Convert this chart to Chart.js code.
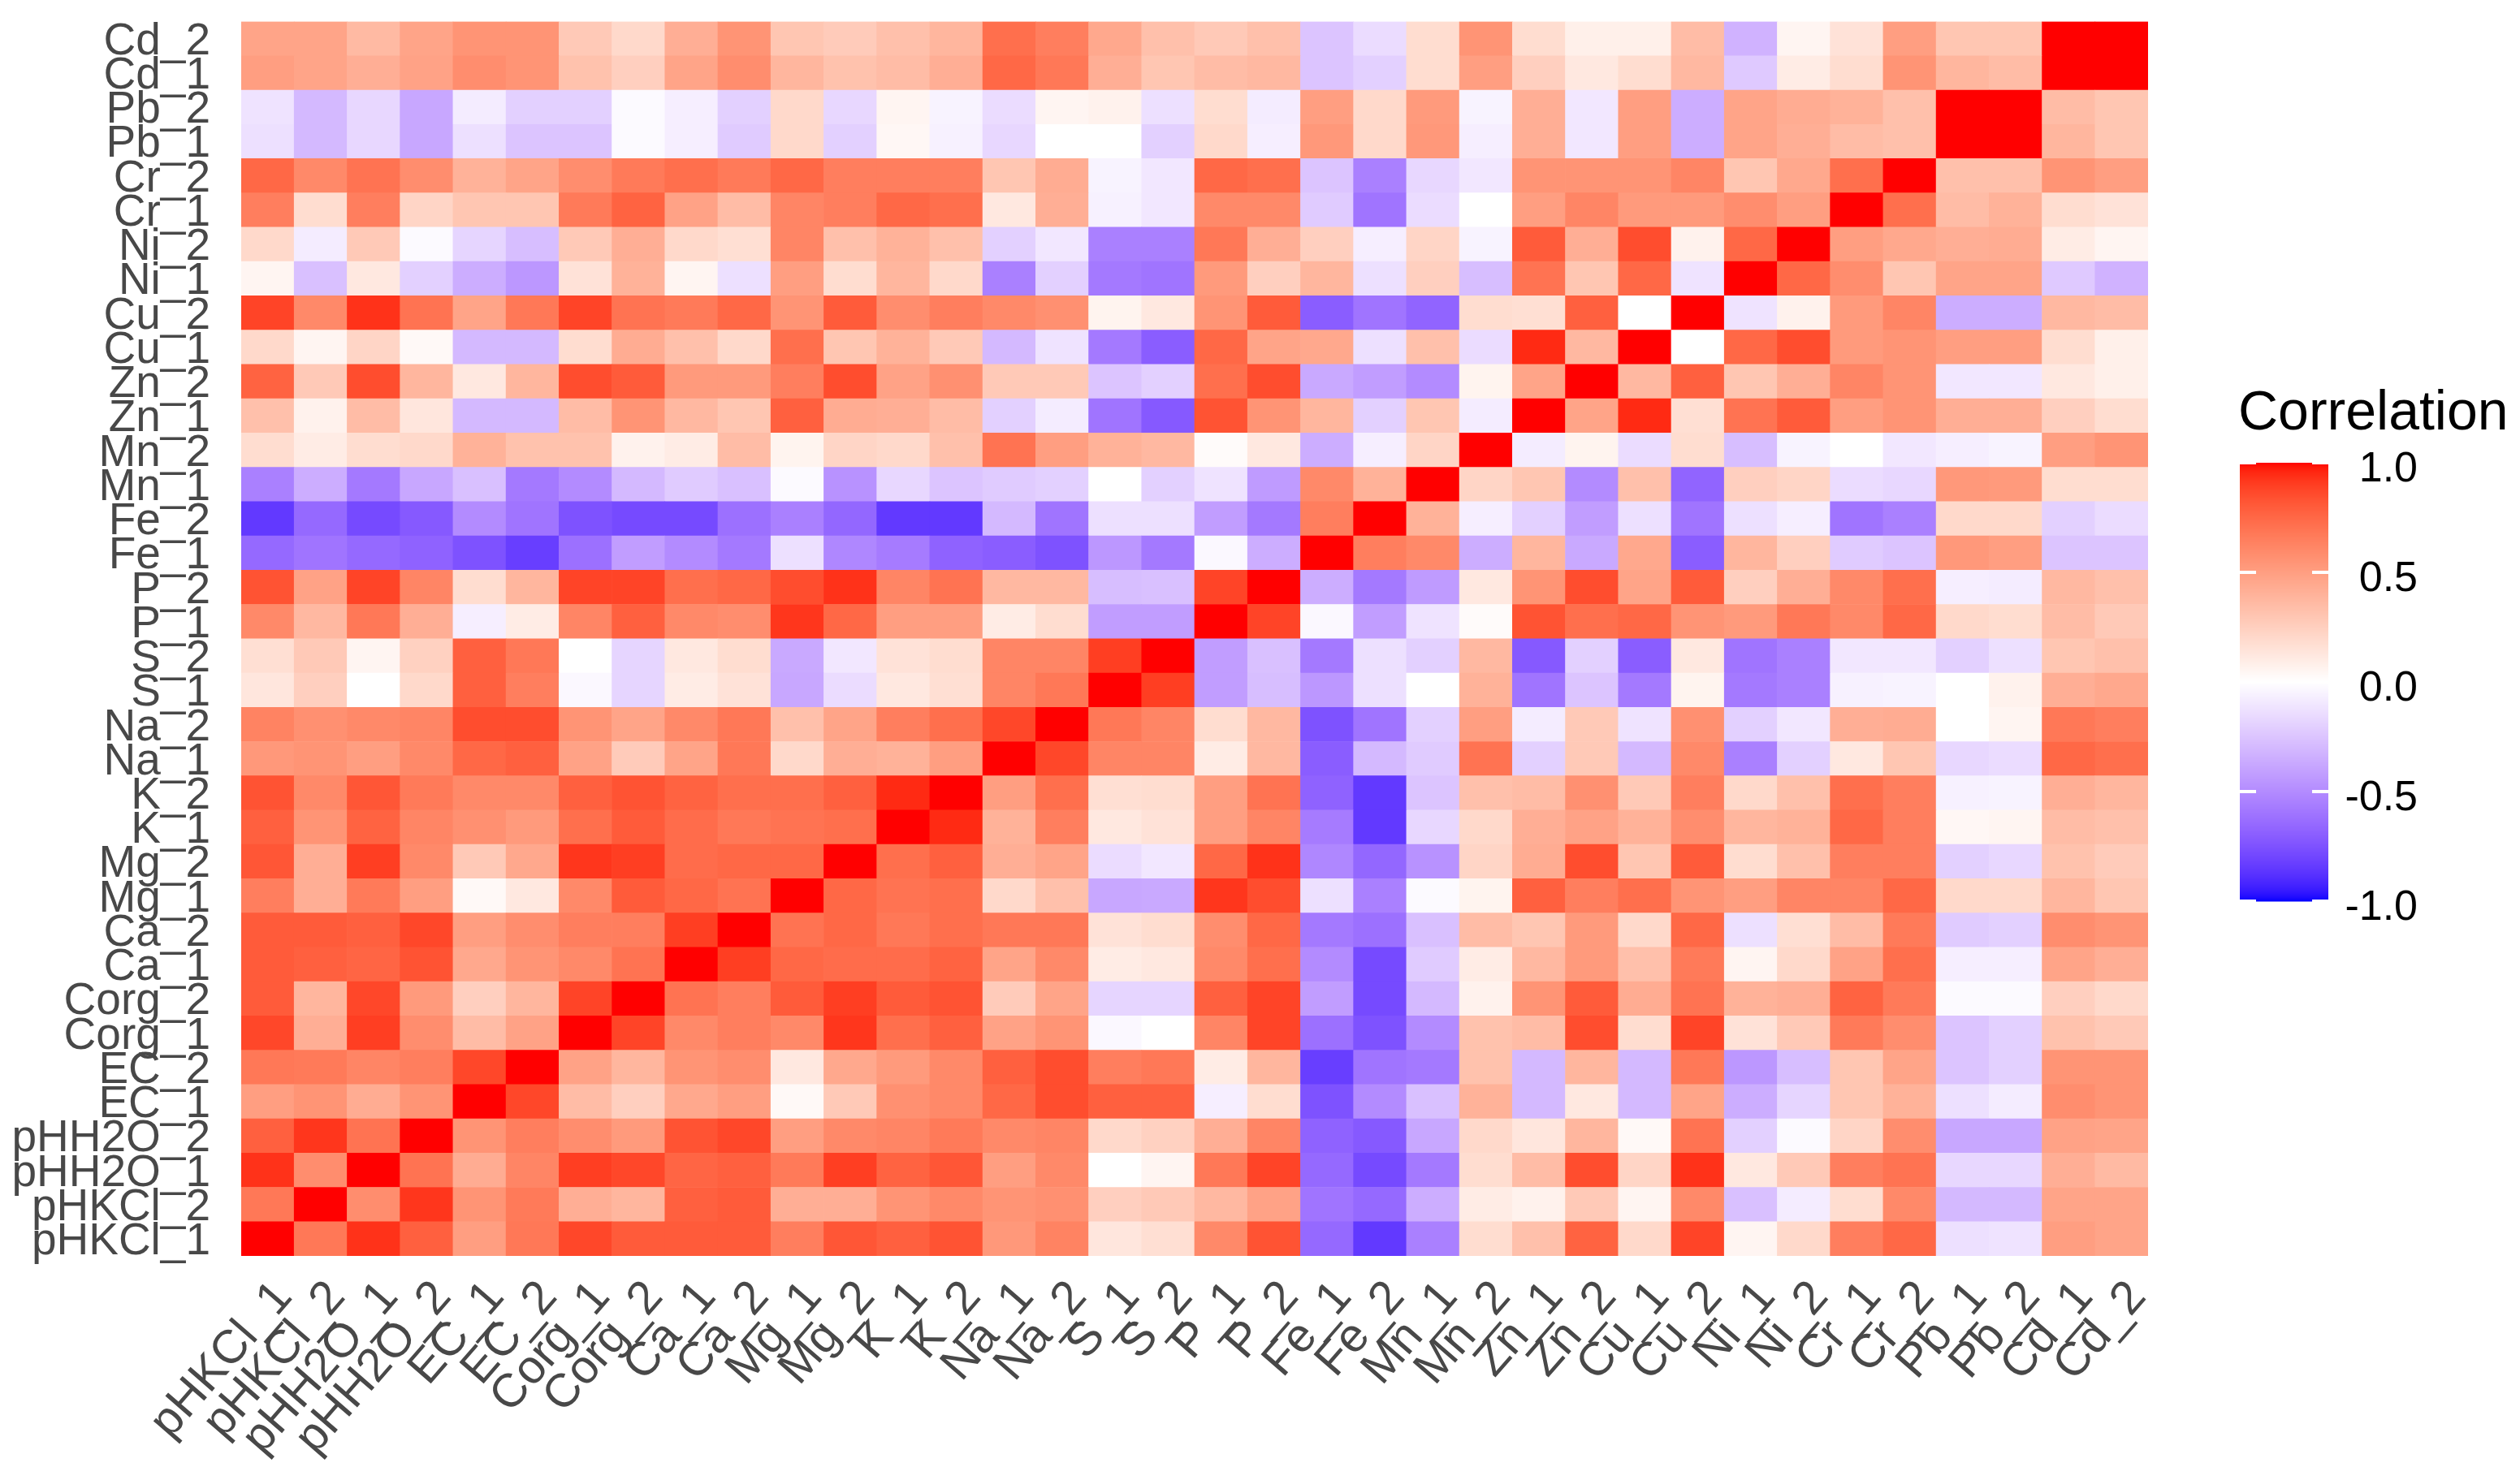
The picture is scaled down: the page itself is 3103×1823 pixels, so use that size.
<!DOCTYPE html>
<html><head><meta charset="utf-8">
<style>html,body{margin:0;padding:0;background:#fff;overflow:hidden}canvas{display:block}</style>
<script src="https://cdn.jsdelivr.net/npm/chart.js@4"></script>
</head><body>
<canvas id="c" width="3103" height="1823" style="width:3103px;height:1823px"></canvas>
<script>
const variables=["pHKCl_1","pHKCl_2","pHH2O_1","pHH2O_2","EC_1","EC_2","Corg_1","Corg_2","Ca_1","Ca_2","Mg_1","Mg_2","K_1","K_2","Na_1","Na_2","S_1","S_2","P_1","P_2","Fe_1","Fe_2","Mn_1","Mn_2","Zn_1","Zn_2","Cu_1","Cu_2","Ni_1","Ni_2","Cr_1","Cr_2","Pb_1","Pb_2","Cd_1","Cd_2"];
const legendTicks=[1,0.5,0,-0.5,-1];
// lower triangle of the correlation matrix, one list per variable
const r_pHKCl_1=[1];
const r_pHKCl_2=[.68,1];
const r_pHH2O_1=[.93,.58,1];
const r_pHH2O_2=[.78,.92,.7,1];
const r_EC_1=[.5,.55,.43,.55,1];
const r_EC_2=[.68,.67,.62,.65,.87,1];
const r_Corg_1=[.87,.42,.9,.58,.35,.48,1];
const r_Corg_2=[.8,.38,.87,.52,.25,.38,.88,1];
const r_Ca_1=[.8,.78,.76,.83,.45,.55,.6,.7,1];
const r_Ca_2=[.8,.8,.78,.87,.5,.58,.65,.65,.9,1];
const r_Mg_1=[.65,.42,.67,.5,.03,.12,.6,.8,.75,.7,1];
const r_Mg_2=[.82,.42,.9,.6,.28,.45,.92,.9,.73,.75,.75,1];
const r_K_1=[.78,.55,.77,.62,.57,.52,.72,.8,.73,.68,.7,.72,1];
const r_K_2=[.83,.6,.82,.67,.6,.6,.78,.83,.77,.72,.72,.78,.95,1];
const r_Na_1=[.53,.55,.5,.6,.75,.78,.48,.27,.47,.68,.2,.42,.4,.5,1];
const r_Na_2=[.63,.57,.6,.62,.85,.85,.55,.47,.6,.68,.33,.47,.65,.72,.87,1];
const r_S_1=[.13,.25,0,.2,.78,.65,-.03,-.18,.1,.15,-.38,-.15,.12,.17,.62,.68,1];
const r_S_2=[.17,.28,.05,.24,.78,.68,0,-.18,.12,.18,-.37,-.1,.15,.18,.62,.62,.9,1];
const r_P_1=[.6,.37,.68,.42,-.07,.1,.62,.78,.6,.58,.92,.75,.5,.5,.1,.18,-.42,-.42,1];
const r_P_2=[.83,.48,.88,.62,.18,.38,.88,.88,.72,.75,.85,.93,.62,.7,.37,.37,-.28,-.27,.88,1];
const r_Fe_1=[-.65,-.6,-.65,-.68,-.75,-.83,-.62,-.42,-.5,-.58,-.13,-.52,-.57,-.68,-.7,-.75,-.45,-.58,-.03,-.35,1];
const r_Fe_2=[-.85,-.65,-.78,-.72,-.5,-.6,-.75,-.78,-.78,-.62,-.55,-.66,-.85,-.85,-.3,-.6,-.13,-.13,-.42,-.58,.65,1];
const r_Mn_1=[-.55,-.35,-.58,-.38,-.27,-.58,-.5,-.3,-.22,-.27,-.02,-.47,-.17,-.25,-.22,-.2,0,-.2,-.12,-.43,.6,.4,1];
const r_Mn_2=[.18,.1,.18,.2,.4,.32,.32,.07,.1,.35,.06,.22,.2,.33,.7,.5,.4,.37,.02,.12,-.35,-.07,.22,1];
const r_Zn_1=[.33,.07,.35,.13,-.3,-.3,.35,.55,.37,.3,.78,.43,.42,.35,-.2,-.08,-.6,-.72,.83,.55,.38,-.2,.3,-.08,1];
const r_Zn_2=[.77,.28,.85,.38,.12,.38,.85,.8,.52,.52,.65,.85,.48,.57,.28,.28,-.25,-.2,.72,.85,-.37,-.42,-.5,.06,.47,1];
const r_Cu_1=[.2,.05,.22,.03,-.3,-.3,.18,.43,.33,.2,.72,.3,.4,.28,-.3,-.12,-.58,-.7,.75,.47,.45,-.13,.33,-.15,.95,.37,1];
const r_Cu_2=[.88,.6,.93,.7,.47,.68,.88,.7,.67,.75,.55,.8,.58,.65,.6,.57,.06,.12,.55,.8,-.7,-.6,-.67,.18,.17,.78,0,1];
const r_Ni_1=[.05,-.27,.12,-.2,-.35,-.45,.15,.4,.05,-.13,.5,.18,.38,.2,-.55,-.2,-.58,-.6,.52,.25,.38,-.13,.25,-.28,.7,.3,.75,-.12,1];
const r_Ni_2=[.2,-.08,.28,-.02,-.18,-.28,.28,.42,.2,.17,.62,.33,.4,.33,-.2,-.1,-.55,-.55,.68,.42,.25,-.07,.22,-.05,.8,.42,.85,.07,.75,1];
const r_Cr_1=[.65,.18,.65,.22,.3,.3,.67,.77,.48,.35,.62,.65,.75,.72,.12,.42,-.06,-.1,.6,.6,-.22,-.6,-.15,0,.5,.62,.52,.52,.58,.5,1];
const r_Cr_2=[.75,.6,.7,.58,.4,.47,.58,.67,.72,.67,.75,.65,.65,.65,.3,.43,-.05,-.1,.75,.72,-.25,-.55,-.17,-.1,.55,.55,.55,.62,.3,.45,.72,1];
const r_Pb_1=[-.13,-.3,-.17,-.38,-.13,-.25,-.25,-.02,-.07,-.22,.2,-.2,.04,-.06,-.17,0,0,-.2,.2,-.07,.53,.2,.53,-.07,.42,-.1,.5,-.35,.47,.42,.35,.33,1];
const r_Pb_2=[-.12,-.3,-.17,-.38,-.08,-.2,-.2,-.02,-.07,-.2,.2,-.17,.05,-.05,-.15,.05,.07,-.13,.18,-.08,.5,.2,.52,-.05,.42,-.1,.5,-.35,.47,.43,.4,.33,1,1];
const r_Cd_1=[.5,.47,.42,.48,.58,.55,.32,.25,.47,.58,.38,.32,.35,.42,.75,.68,.42,.3,.35,.37,-.25,-.2,.18,.5,.25,.12,.18,.37,-.23,.1,.18,.55,.38,.35,1];
const r_Cd_2=[.47,.47,.36,.47,.55,.55,.28,.2,.42,.55,.3,.27,.33,.38,.72,.65,.45,.33,.28,.33,-.25,-.15,.18,.55,.18,.08,.08,.35,-.33,.05,.15,.5,.3,.3,1,1];
const lower=[r_pHKCl_1,r_pHKCl_2,r_pHH2O_1,r_pHH2O_2,r_EC_1,r_EC_2,r_Corg_1,r_Corg_2,r_Ca_1,r_Ca_2,r_Mg_1,r_Mg_2,r_K_1,r_K_2,r_Na_1,r_Na_2,r_S_1,r_S_2,r_P_1,r_P_2,r_Fe_1,r_Fe_2,r_Mn_1,r_Mn_2,r_Zn_1,r_Zn_2,r_Cu_1,r_Cu_2,r_Ni_1,r_Ni_2,r_Cr_1,r_Cr_2,r_Pb_1,r_Pb_2,r_Cd_1,r_Cd_2];
const corr=(i,j)=>i>=j?lower[i][j]:lower[j][i];

// scale_fill_gradient2(low=blue, mid=white, high=red) interpolates in Lab
const LAB={red:[53.24,80.09,67.2],white:[100,0,0],blue:[32.3,79.19,-107.86]};
function lab2rgb([L,a,b]){
  const fy=(L+16)/116,fx=fy+a/500,fz=fy-b/200;
  const g=t=>t>6/29?t*t*t:3*(6/29)*(6/29)*(t-4/29);
  const X=.95047*g(fx),Y=g(fy),Z=1.08883*g(fz);
  const lin=[3.2406*X-1.5372*Y-.4986*Z,-.9689*X+1.8758*Y+.0415*Z,.0557*X-.204*Y+1.057*Z];
  return lin.map(c=>{c=Math.max(0,Math.min(1,c));return Math.round(255*(c<=.0031308?12.92*c:1.055*Math.pow(c,1/2.4)-.055));});
}
function colorFor(v){
  const end=v>=0?LAB.red:LAB.blue,t=Math.abs(v);
  const c=lab2rgb(LAB.white.map((w,k)=>w+(end[k]-w)*t));
  return `rgb(${c[0]},${c[1]},${c[2]})`;
}
const FONT='"Liberation Sans", Arial, sans-serif';
const datasets=variables.map((name,i)=>({
  label:name,
  data:variables.map((col,j)=>({x:col,y:[i,i+1],v:corr(i,j)})),
  backgroundColor:ctx=>ctx.raw?colorFor(ctx.raw.v):'#fff',
  borderWidth:0,barPercentage:1,categoryPercentage:1,grouped:false
}));
const colorbar={id:'colorbar',afterDraw(ch){
  const g=ch.ctx,x0=2758,x1=2867,yTop=570,yBot=1110;
  const py=v=>yBot-(v+1)/2*(yBot-yTop);
  for(let y=yTop;y<yBot;y++){g.fillStyle=colorFor(1-2*(y+.5-yTop)/(yBot-yTop));g.fillRect(x0,y,x1-x0,1.5);}
  g.fillStyle='#fff';
  legendTicks.forEach(v=>{const y=py(v);g.fillRect(x0,y-2,20,4);g.fillRect(x1-20,y-2,20,4);});
  g.fillStyle='#000';g.textBaseline='middle';g.textAlign='left';
  g.font='68px '+FONT;g.fillText('Correlation',2756,510);
  g.font='52px '+FONT;g.textAlign='right';
  legendTicks.forEach(v=>g.fillText(v.toFixed(1),2977,py(v)+9));
}};
new Chart(document.getElementById('c'),{
  type:'bar',
  data:{labels:variables,datasets},
  plugins:[colorbar],
  options:{
    responsive:false,animation:false,devicePixelRatio:1,
    layout:{padding:{left:0,top:26.5,right:458,bottom:0}},
    plugins:{legend:{display:false},tooltip:{enabled:false},title:{display:false}},
    scales:{
      x:{type:'category',grid:{display:false},border:{display:false},
        afterFit(s){s.height=276;s.paddingLeft=0;s.paddingRight=0;},
        ticks:{autoSkip:false,minRotation:49,maxRotation:49,labelOffset:20,color:'#484848',padding:10,font:{family:FONT,size:58}}},
      y:{type:'linear',min:0,max:36,grid:{display:false},border:{display:false},
        afterFit(s){s.width=297;s.paddingTop=0;s.paddingBottom=0;},
        afterBuildTicks(s){s.ticks=variables.map((_,i)=>({value:i+.5}));},
        afterTickToLabelConversion(s){s.ticks.forEach((t,i)=>{t.label=variables[i];});},
        ticks:{autoSkip:false,labelOffset:4,color:'#484848',padding:30,font:{family:FONT,size:55}}}
    }
  }
});
</script>
</body></html>
